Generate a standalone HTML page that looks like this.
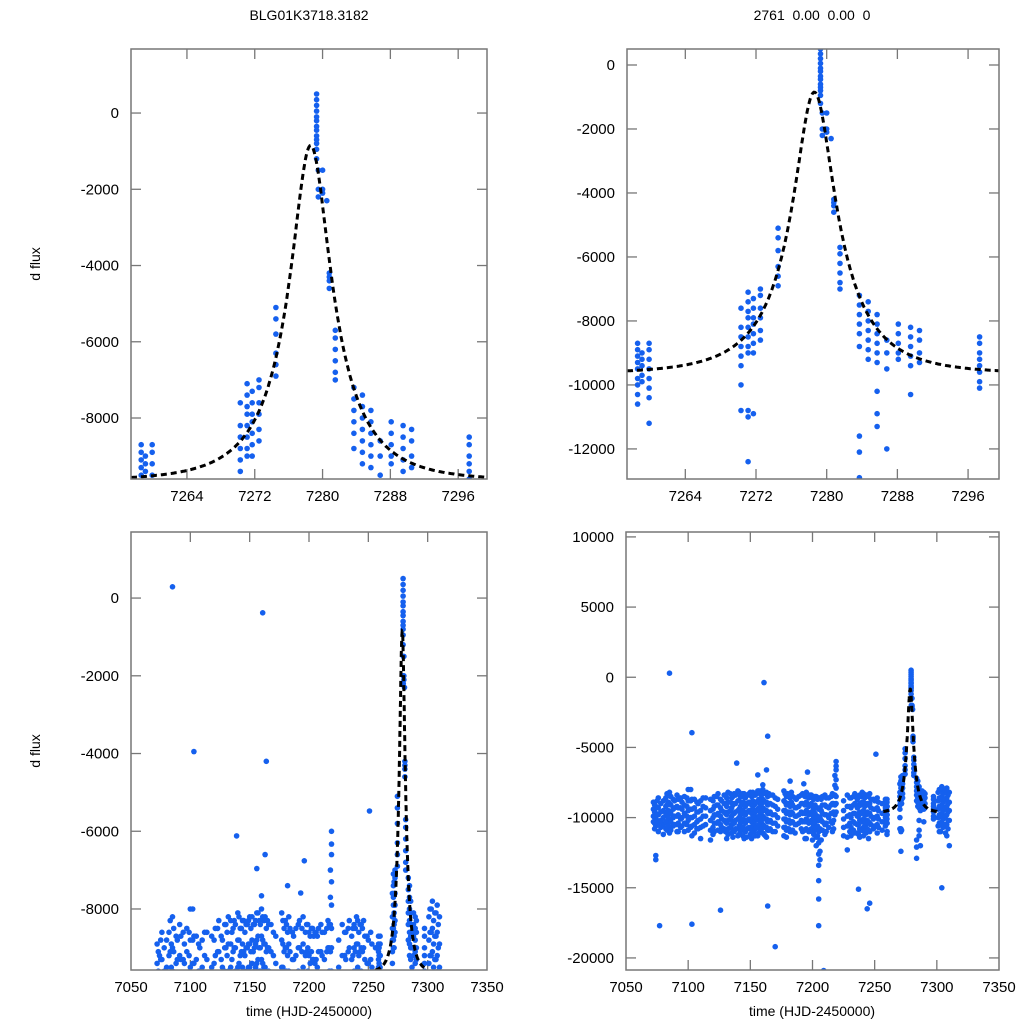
<!DOCTYPE html>
<html><head><meta charset="utf-8"><style>
html,body{margin:0;padding:0;background:#fff;width:1024px;height:1024px;overflow:hidden;}
svg{display:block;font-family:"Liberation Sans",sans-serif;}
</style></head><body>
<svg id="chart" width="1024" height="1024" viewBox="0 0 1024 1024">
<text x="309" y="20" font-size="14" text-anchor="middle">BLG01K3718.3182</text>
<text x="812" y="20" font-size="14" text-anchor="middle" xml:space="preserve">2761  0.00  0.00  0</text>
<text transform="translate(40,264) rotate(-90)" font-size="14" text-anchor="middle">d flux</text>
<text transform="translate(40,751) rotate(-90)" font-size="14" text-anchor="middle">d flux</text>
<text x="309" y="1016" font-size="14" text-anchor="middle">time (HJD-2450000)</text>
<text x="812" y="1016" font-size="14" text-anchor="middle">time (HJD-2450000)</text>
</svg>
<script>
// Event (zoomed) photometry: nights and their flux values
const eventTimes = [7258.6,7259.1,7259.9,7270.3,7271.1,7271.7,7272.5,7274.5,7279.3,7279.5,7280.0,7280.5,7280.8,7281.5,7283.7,7284.7,7285.7,7286.8,7288.1,7289.5,7290.5,7297.3];
const eventFlux = [
 [-8700,-8900,-9100,-9300,-9500,-9800,-10000,-10300,-10600],
 [-9000,-9200,-9400,-9700,-9900],
 [-8700,-8900,-9200,-9500,-9800,-10100,-10400,-11200],
 [-7600,-8200,-8500,-8800,-9100,-9400,-10000,-10800],
 [-7100,-7400,-7700,-7900,-8200,-8500,-8800,-9000,-10800,-11000,-12400],
 [-7300,-7600,-7900,-8100,-8400,-8700,-9000,-10900],
 [-7000,-7200,-7600,-7900,-8300,-8600],
 [-5100,-5400,-5800,-6300,-6600,-6900],
 [500,350,200,50,-100,-200,-350,-450,-600,-700,-800,-950,-1200],
 [-1500,-2000,-2200],
 [-1500,-2000,-2100],
 [-2300],
 [-4200,-4300,-4400,-4600],
 [-5700,-5900,-6200,-6500,-6800,-7000],
 [-7200,-7500,-7800,-8100,-8400,-8800,-11600,-12100,-12900],
 [-7400,-7700,-8000,-8300,-8600,-8900,-9200],
 [-7800,-8100,-8400,-8700,-9000,-9300,-10200,-10900,-11300],
 [-8600,-9000,-9500,-12000],
 [-8100,-8400,-8700,-9000,-9200],
 [-8200,-8500,-8800,-9100,-9400,-10300],
 [-8300,-8600,-9000,-9300],
 [-8500,-8700,-9000,-9200,-9400,-9600,-9900,-10100]
];
// Full-season photometry
const seasonTimes = [7072,7074,7076,7080,7083,7085,7088,7091,7094,7097,7100,7103,7107,7110,7114,7118,7121,7124,7127,7130,7132,7135,7137,7140,7142,7145,7148,7150,7153,7156,7158,7160,7163,7165,7168,7172,7177,7180,7183,7186,7189,7192,7195,7198,7201,7203,7205,7207,7210,7213,7216,7219,7225,7228,7231,7234,7237,7240,7243,7246,7249,7252,7256,7260,7302,7304,7306,7308,7310];
const seasonFlux = [
 [-8900,-9400,-9900,-10300],[-9200,-9700,-10100,-10600,-12700,-13000],[-8600,-9300,-9800,-10400,-11000],
 [-8800,-9500,-10000,-10500,-11200],[-8300,-9100,-9800,-10300,-10900],[-8200,-9000,-9600,-10200,-10700,-11100],
 [-8700,-9400,-10000,-10600],[-8400,-9200,-9900,-10500,-11000],[-8600,-9300,-10100,-10700],
 [-8500,-9100,-9700,-10400,-11000],[-8000,-8800,-9500,-10200,-10900],[-8700,-9400,-10000,-10600,-11300],
 [-8900,-9600,-10300,-10800],[-8800,-9500,-10100,-10700,-11500],[-8600,-9300,-9900,-10500],
 [-8700,-9500,-10200,-10900,-11600],[-8500,-9200,-9800,-10400,-11000],[-8300,-9100,-9700,-10300,-10900],
 [-8800,-9500,-10100,-10700],[-8400,-9000,-9700,-10300,-11000],[-8200,-8900,-9600,-10200,-10800,-11200],
 [-8600,-9300,-9900,-10500,-11100],[-8300,-9000,-9700,-10400,-11000],[-8100,-8800,-9500,-10100,-10800,-11300],
 [-8500,-9200,-9800,-10400,-11000],[-8300,-9100,-9700,-10300,-10900,-11500],[-8400,-9000,-9600,-10200,-10800],
 [-8200,-8900,-9500,-10100,-10700,-11200],[-8400,-9100,-9800,-10400,-11000],[-8100,-8800,-9400,-10000,-10700,-11300],
 [-8300,-9000,-9600,-10300,-10900],[-8000,-8700,-9300,-9900,-10500,-11100],[-8200,-8900,-9500,-10100,-10700,-11400],
 [-8300,-9000,-9700,-10300,-10900],[-8400,-9100,-9800,-10400,-11000],[-8700,-9400,-10000,-10600],
 [-8100,-8800,-9500,-10100,-10700,-11300],[-8300,-9000,-9600,-10200,-10800],[-8200,-8900,-9600,-10300,-11000],
 [-8600,-9300,-9900,-10500,-11100],[-8500,-9200,-9800,-10400],[-8300,-9000,-9700,-10300,-11000],
 [-8200,-8900,-9500,-10100,-10800,-11500],[-8400,-9100,-9700,-10300,-10900],[-8700,-9400,-10000,-10600,-11200],
 [-8500,-9300,-10000,-10700,-11400,-12000],[-8600,-9400,-10200,-11000,-11800,-12600,-13400,-14500,-15800],
 [-8700,-9500,-10200,-10900,-11600],[-8400,-9100,-9800,-10500,-11200],[-8600,-9300,-10000,-10700],
 [-8300,-9000,-9700,-10400,-11000],[-6000,-6600,-7300,-7900,-8500,-9000,-9600],
 [-8800,-9500,-10100,-10700,-11300],[-8400,-9200,-9900,-10600,-11400,-12300],[-8600,-9300,-10000,-10700,-11300],
 [-8300,-9000,-9700,-10400,-11100],[-8500,-9200,-9900,-10500,-11200],[-8200,-8900,-9600,-10300,-10900],
 [-8400,-9100,-9800,-10500,-11100],[-8300,-9000,-9700,-10400,-11000],[-8700,-9400,-10100,-10800],
 [-8600,-9300,-9900,-10500,-11100],[-9000,-9700,-10300,-10900],[-9200,-9800,-10400,-11000],
 [-8000,-8600,-9200,-9800,-10400,-11000],[-7800,-8500,-9100,-9700,-10300,-15000],[-8100,-8700,-9300,-9900,-10600],
 [-7900,-8600,-9200,-9800,-10500,-11300],[-8200,-8900,-9500,-10200,-12000]
];
// Additional season nights (interleaved observations)
const seasonTimes2 = [7073,7075,7078,7082,7084,7086,7089,7092,7095,7099,7102,7105,7108,7112,7120,7123,7126,7129,7131,7134,7136,7138,7141,7143,7144,7146,7147,7149,7151,7152,7154,7155,7157,7159,7161,7162,7164,7166,7170,7178,7179,7181,7182,7184,7187,7191,7194,7197,7199,7200,7202,7204,7206,7208,7211,7215,7217,7218,7230,7233,7236,7238,7239,7241,7242,7244,7245,7247,7250,7253,7301,7303,7305,7307,7309];
const seasonFlux2 = [
 [-9100,-9600,-10000,-10400,-10800],[-8800,-9300,-9800,-10200],[-9000,-9600,-10200,-10700],[-8600,-9200,-9700,-10300,-10800],
 [-8900,-9500,-10000,-10600],[-8500,-9100,-9700,-10300,-10900],[-8800,-9300,-9900,-10500],[-8700,-9300,-9800,-10400,-11000],
 [-8900,-9400,-10000,-10600],[-8600,-9200,-9900,-10500],[-8800,-9400,-10000,-10700],[-8700,-9300,-9900,-10500,-11100],
 [-9000,-9600,-10200,-10800],[-8600,-9200,-9900,-10600],[-8800,-9400,-10000,-10700,-11200],[-8500,-9100,-9800,-10400],
 [-8700,-9300,-9900,-10500,-11000],[-8400,-9000,-9600,-10200,-10800],[-8600,-9200,-9800,-10400,-11000,-11500],[-8300,-8900,-9500,-10100,-10700],
 [-8500,-9100,-9700,-10300,-10900,-11400],[-8400,-9000,-9600,-10200,-10800],[-8200,-8800,-9400,-10000,-10600,-11200],[-8500,-9100,-9700,-10300,-10900],
 [-8300,-8900,-9500,-10100,-10700,-11300],[-8600,-9200,-9800,-10400,-11000],[-8400,-9000,-9600,-10200,-10800,-11400],[-8300,-8900,-9500,-10100,-10700],
 [-8500,-9100,-9700,-10300,-10900,-11500],[-8200,-8800,-9400,-10000,-10600],[-8400,-9000,-9600,-10200,-10800,-11300],[-8300,-8900,-9500,-10100,-10700],
 [-8100,-8700,-9300,-9900,-10500,-11100],[-8400,-9000,-9600,-10200,-10800],[-8200,-8800,-9400,-10000,-10600,-11200],[-8300,-8900,-9500,-10100,-10700,-11300],
 [-8500,-9100,-9700,-10300,-10900],[-8400,-9000,-9600,-10200,-10800],[-8600,-9200,-9800,-10400,-11000],[-8300,-8900,-9500,-10100,-10700],
 [-8500,-9100,-9700,-10300,-10900,-11400],[-8400,-9000,-9600,-10200,-10800],[-8600,-9200,-9800,-10400,-11000],[-8500,-9100,-9700,-10300,-10900],
 [-8700,-9300,-9900,-10500],[-8400,-9000,-9600,-10200,-10800],[-8500,-9100,-9700,-10300,-10900,-11500],[-8600,-9200,-9800,-10400,-11000],
 [-8400,-9000,-9600,-10200,-10800],[-8600,-9200,-9800,-10400,-11000,-11600],[-8500,-9100,-9700,-10300,-10900],[-8700,-9300,-9900,-10600,-11300],
 [-8600,-9300,-10000,-10800,-11600,-12400,-13000],[-8500,-9100,-9700,-10300,-10900],[-8600,-9200,-9800,-10400,-11000],[-8500,-9100,-9700,-10300],
 [-8400,-9000,-9600,-10200,-10800],[-7000,-7700,-8400,-9100,-9800],[-8600,-9200,-9800,-10400,-11000],[-8500,-9100,-9700,-10300,-10900],
 [-8700,-9300,-9900,-10500,-11100],[-8400,-9000,-9600,-10200,-10800,-11400],[-8500,-9100,-9700,-10300,-10900],[-8300,-8900,-9500,-10100,-10700,-11300],
 [-8600,-9200,-9800,-10400,-11000],[-8400,-9000,-9600,-10200,-10800],[-8500,-9100,-9700,-10300,-10900,-11500],[-8700,-9300,-9900,-10500],
 [-8800,-9400,-10000,-10600],[-8900,-9500,-10100,-10700],[-8200,-8800,-9400,-10000,-10600],[-8000,-8600,-9200,-9800,-10400,-11000],
 [-8300,-8900,-9500,-10100,-10700],[-8100,-8700,-9300,-9900,-10500,-11100],[-8400,-9000,-9600,-10200,-10800]
];
const outlierTimes = [7085,7103,7161,7164,7163,7139,7160,7156,7251,7219,7196,7182,7193,7077,7103,7126,7164,7170,7205,7209,7244,7246,7237,7102];
const outlierFlux = [290,-3950,-380,-4200,-6600,-6120,-7660,-6960,-5480,-6330,-6760,-7400,-7590,-17700,-17600,-16600,-16300,-19200,-17700,-20900,-16500,-16100,-15100,-8000];
// Microlensing model parameters (t0, u0, tE, source flux, baseline)
const modelParams = [7278.6, 0.3, 8.0, 3600, -9650];

const panels = [
 {name:'top-left',x0:131,x1:487,y0:49,y1:479,t0:7257.4,t1:7299.4,f0:-9600,f1:1680,
  xt:[7264,7272,7280,7288,7296],yt:[0,-2000,-4000,-6000,-8000],season:false,m0:7257.4,m1:7299.4},
 {name:'top-right',x0:627,x1:999,y0:49,y1:479,t0:7257.4,t1:7299.5,f0:-12940,f1:500,
  xt:[7264,7272,7280,7288,7296],yt:[0,-2000,-4000,-6000,-8000,-10000,-12000],season:false,m0:7257.4,m1:7299.5},
 {name:'bottom-left',x0:131,x1:487,y0:532,y1:970,t0:7050,t1:7350,f0:-9570,f1:1700,
  xt:[7050,7100,7150,7200,7250,7300,7350],yt:[0,-2000,-4000,-6000,-8000],season:true,m0:7256,m1:7299},
 {name:'bottom-right',x0:626,x1:999,y0:532,y1:970,t0:7050,t1:7350,f0:-20860,f1:10350,
  xt:[7050,7100,7150,7200,7250,7300,7350],yt:[10000,5000,0,-5000,-10000,-15000,-20000],season:true,m0:7257,m1:7300}
];
const NS='http://www.w3.org/2000/svg';
const svg=document.getElementById('chart');
function mk(tag,attrs,parent){const e=document.createElementNS(NS,tag);for(const k in attrs)e.setAttribute(k,attrs[k]);(parent||svg).appendChild(e);return e;}
function model(t){const [tc,u0,tE,fs,base]=modelParams;const tau=(t-tc)/tE;const u=Math.sqrt(u0*u0+tau*tau);const A=(u*u+2)/(u*Math.sqrt(u*u+4));return base+fs*(A-1);}

panels.forEach((p,i)=>{
 const sx=t=>p.x0+(t-p.t0)/(p.t1-p.t0)*(p.x1-p.x0);
 const sy=f=>p.y1-(f-p.f0)/(p.f1-p.f0)*(p.y1-p.y0);
 const g=mk('g',{});
 
 
 const cp=mk('clipPath',{id:'clip'+i},g);
 mk('rect',{x:p.x0,y:p.y0,width:p.x1-p.x0,height:p.y1-p.y0},cp);
 p.xt.forEach(t=>{
  const x=sx(t);
  if(x>p.x0+1&&x<p.x1-1){
   const a=mk('line',{x1:x,x2:x,y1:p.y1,y2:p.y1-10,stroke:'#777','stroke-width':1.3},g);
   
   mk('line',{x1:x,x2:x,y1:p.y0,y2:p.y0+10,stroke:'#777','stroke-width':1.3},g);
  }
  const tx=mk('text',{x:x,y:p.y1+22,'font-size':15,'text-anchor':'middle'},g);
  tx.textContent=t;
  
  
 });
 p.yt.forEach(f=>{
  const y=sy(f);
  const a=mk('line',{x1:p.x0,x2:p.x0+10,y1:y,y2:y,stroke:'#777','stroke-width':1.3},g);
  
  mk('line',{x1:p.x1,x2:p.x1-10,y1:y,y2:y,stroke:'#777','stroke-width':1.3},g);
  const tx=mk('text',{x:p.x0-12,y:y+5,'font-size':15,'text-anchor':'end'},g);
  tx.textContent=f;
  
  
 });
 const pts=mk('g',{'clip-path':'url(#clip'+i+')',fill:'#1560ee'},g);
 
 
 function dot(t,f){const c=mk('circle',{cx:sx(t).toFixed(1),cy:sy(f).toFixed(1),r:2.8},pts);
  
  }
 eventTimes.forEach((t,j)=>eventFlux[j].forEach(f=>dot(t,f)));
 if(p.season){
  seasonTimes.forEach((t,j)=>seasonFlux[j].forEach(f=>dot(t,f)));
  seasonTimes2.forEach((t,j)=>seasonFlux2[j].forEach(f=>dot(t,f)));
  outlierTimes.forEach((t,j)=>dot(t,outlierFlux[j]));
 }
 let d='';
 for(let k=0;k<=400;k++){const t=p.m0+(p.m1-p.m0)*k/400;d+=(k?'L':'M')+sx(t).toFixed(1)+','+sy(model(t)).toFixed(1);}
 const ml=mk('path',{d:d,fill:'none',stroke:'#000','stroke-width':3,'stroke-dasharray':'6,4','clip-path':'url(#clip'+i+')'},g);
 
 
 const fr=mk('rect',{x:p.x0,y:p.y0,width:p.x1-p.x0,height:p.y1-p.y0,fill:'none',stroke:'#777','stroke-width':1.5},g);
 
 
});
</script>
</body></html>
